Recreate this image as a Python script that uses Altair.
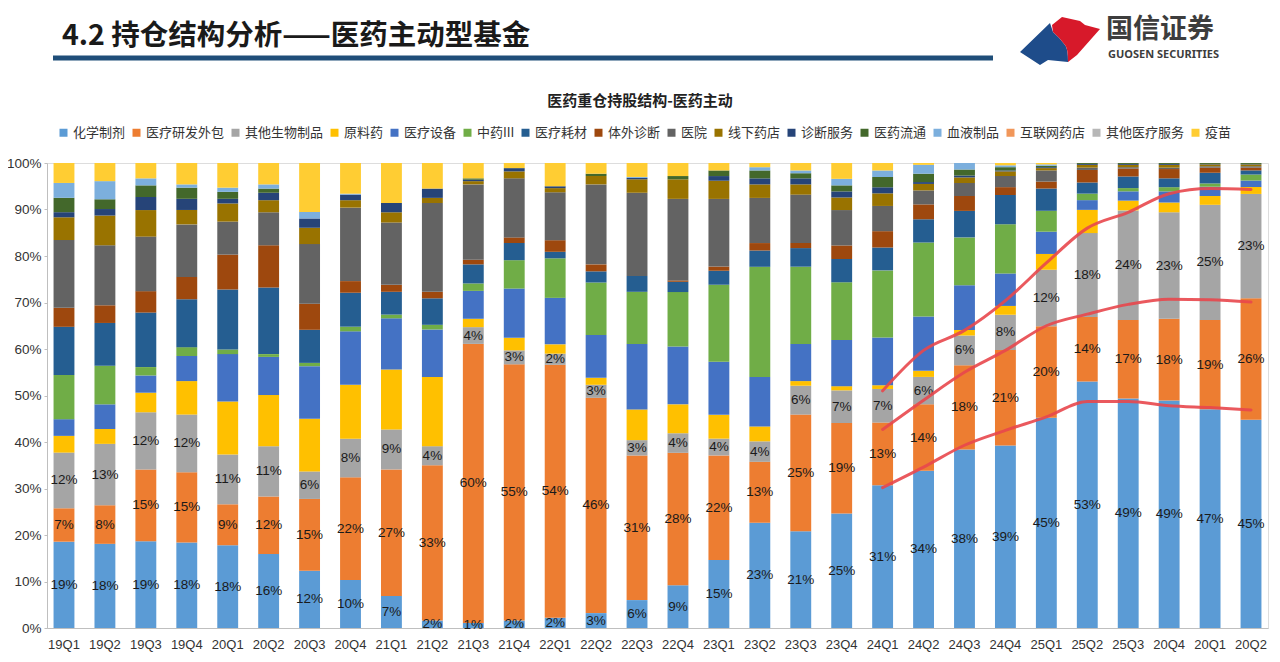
import json
import pandas as pd
import altair as alt

x_labels = ["19Q1", "19Q2", "19Q3", "19Q4", "20Q1", "20Q2", "20Q3", "20Q4",
            "21Q1", "21Q2", "21Q3", "21Q4", "22Q1", "22Q2", "22Q3", "22Q4",
            "23Q1", "23Q2", "23Q3", "23Q4", "24Q1", "24Q2", "24Q3", "24Q4",
            "25Q1", "25Q2", "25Q3", "20Q4", "20Q1", "20Q2"]

categories = ["化学制剂", "医疗研发外包", "其他生物制品", "原料药", "医疗设备", "中药III",
              "医疗耗材", "体外诊断", "医院", "线下药店", "诊断服务", "医药流通",
              "血液制品", "互联网药店", "其他医疗服务", "疫苗"]
colors = ["#5B9BD5", "#ED7D31", "#A5A5A5", "#FFC000", "#4472C4", "#70AD47",
          "#255E91", "#9E480E", "#636363", "#997300", "#264478", "#43682B",
          "#7CAFDD", "#F1975A", "#B7B7B7", "#FFCD33"]

chem = [18.6, 18.1, 18.6, 18.4, 17.8, 15.9, 12.3, 10.3, 6.9, 1.6, 1.1, 1.6, 2.2, 3.2, 6.0,
        9.2, 14.6, 22.6, 20.8, 24.6, 30.6, 33.8, 38.4, 39.3, 45.3, 53.1, 49.4, 48.9, 47.1, 45.1]
cro = [7.2, 8.3, 15.4, 15.1, 8.8, 12.4, 15.4, 22.1, 27.2, 33.4, 60.0, 55.1, 54.4, 46.3, 31.1,
       28.4, 22.4, 13.1, 25.1, 19.4, 13.4, 14.3, 18.1, 20.6, 19.7, 13.9, 16.9, 17.6, 19.2, 26.3]
bio = [12.0, 13.2, 12.3, 12.4, 10.7, 10.8, 5.9, 8.3, 8.6, 4.1, 3.6, 3.0, 2.4, 2.8, 3.3,
       4.2, 3.6, 4.4, 6.2, 7.0, 7.2, 5.9, 6.4, 7.6, 12.2, 18.1, 23.6, 22.9, 24.8, 22.6]
api = [3.6, 3.2, 4.2, 7.2, 11.4, 11.0, 11.3, 11.6, 12.9, 14.9, 1.8, 2.7, 2.0, 1.5, 6.6,
       6.2, 5.1, 3.2, 1.0, 0.9, 0.8, 1.3, 1.2, 1.9, 3.4, 5.0, 2.1, 2.1, 1.9, 1.5]
device = [3.6, 5.3, 3.7, 5.4, 10.2, 8.2, 11.3, 11.5, 11.0, 10.2, 6.0, 10.6, 10.0, 9.2, 14.1,
          12.4, 11.4, 10.6, 8.0, 9.9, 10.2, 11.7, 9.6, 7.0, 4.8, 2.1, 2.0, 2.4, 2.0, 1.4]
tcm = [9.5, 8.3, 1.8, 1.9, 1.0, 0.6, 0.7, 1.0, 0.8, 1.0, 1.6, 6.1, 8.5, 11.3, 11.2,
       11.7, 16.5, 23.7, 16.6, 12.4, 14.4, 15.9, 10.3, 10.6, 4.5, 1.4, 0.7, 0.9, 0.7, 1.3]
consum = [10.4, 9.2, 11.7, 10.3, 12.9, 14.3, 7.1, 7.3, 4.9, 5.7, 4.1, 3.7, 1.4, 2.4, 3.4,
          2.2, 3.0, 3.5, 4.0, 5.0, 4.9, 5.0, 5.7, 6.3, 4.8, 2.4, 2.5, 1.9, 2.3, 0.9]
ivd = [4.1, 3.8, 4.6, 4.8, 7.5, 9.1, 5.6, 2.5, 1.5, 1.4, 1.0, 1.2, 2.5, 1.5, 0.0,
       0.3, 0.9, 1.6, 1.1, 2.9, 3.5, 3.2, 3.2, 1.7, 1.5, 2.7, 1.7, 2.0, 1.1, 0.6]
hospital = [14.6, 12.9, 11.7, 11.3, 7.1, 7.1, 12.8, 15.8, 13.4, 19.1, 16.2, 12.7, 10.3, 17.2, 17.9,
            17.5, 14.5, 9.7, 10.4, 7.6, 5.4, 3.0, 2.8, 2.4, 2.4, 0.5, 0.3, 0.3, 0.3, 0.3]
pharmacy = [4.9, 6.4, 5.7, 3.1, 3.9, 2.6, 3.5, 1.6, 2.2, 1.1, 0.7, 1.5, 0.9, 1.8, 2.9,
            4.2, 3.9, 2.9, 2.2, 2.7, 2.7, 1.4, 1.2, 1.0, 0.5, 0.6, 0.5, 0.6, 0.4, 0.4]
diag_srv = [1.1, 1.4, 2.8, 2.4, 1.0, 1.6, 2.0, 1.2, 2.0, 2.0, 0.3, 0.7, 0.4, 0.0, 0.3,
            0.0, 1.0, 1.3, 1.3, 1.3, 1.3, 0.4, 0.4, 0.2, 0.2, 0.2, 0.2, 0.2, 0.1, 0.1]
distrib = [3.1, 2.1, 2.5, 2.4, 1.5, 0.9, 0.0, 0.0, 0.0, 0.0, 0.3, 0.0, 0.0, 0.5, 0.0,
           0.7, 1.2, 1.7, 1.1, 1.3, 2.2, 1.8, 1.3, 0.7, 0.3, 0.2, 0.2, 0.2, 0.2, 0.2]
blood = [3.2, 3.9, 1.5, 0.7, 0.9, 0.9, 1.4, 0.2, 0.0, 0.0, 0.0, 0.0, 0.0, 0.0, 0.2,
         0.0, 0.0, 0.7, 0.6, 1.4, 1.4, 1.9, 1.4, 0.4, 0.3, 0.0, 0.0, 0.0, 0.0, 0.0]
online = [0.0] * 30
other_srv = [0.0] * 30
vaccine = [4.3, 3.9, 3.3, 4.6, 5.3, 4.6, 10.5, 6.6, 8.6, 5.5, 3.3, 1.1, 5.0, 2.3, 3.0,
           2.8, 1.6, 0.9, 1.6, 3.4, 1.6, 0.4, 0.0, 0.5, 0.3, 0.0, 0.0, 0.0, 0.0, 0.0]

series = [chem, cro, bio, api, device, tcm, consum, ivd, hospital, pharmacy,
          diag_srv, distrib, blood, online, other_srv, vaccine]

# hand-drawn red annotation lines, from 24Q1 on
red_idx = [20, 21, 22, 23, 24, 25, 26, 27, 28, 29]
red_top = [51.0, 59.7, 64.0, 70.4, 78.5, 86.0, 89.4, 93.4, 94.5, 94.3]
red_mid = [42.7, 49.0, 55.0, 59.7, 65.0, 67.5, 69.6, 70.7, 70.6, 70.1]
red_bot = [30.2, 34.6, 39.3, 42.5, 45.4, 48.7, 48.7, 47.8, 47.4, 46.9]

rows = []
for o, (c, vals) in enumerate(zip(categories, series)):
    for i, v in enumerate(vals):
        rows.append({"idx": i, "cat": c, "order": o, "v": v})
df = pd.DataFrame(rows)

red_rows = []
for name, vals in [("top", red_top), ("mid", red_mid), ("bot", red_bot)]:
    for i, v in zip(red_idx, vals):
        red_rows.append({"idx": i, "line": name, "p": v})
red_df = pd.DataFrame(red_rows)

CJK = "Noto Sans CJK SC"
NUM = "Liberation Sans"

xscale = alt.Scale(paddingInner=0.49, paddingOuter=0.16)
yscale = alt.Scale(domain=[0, 1], nice=False, zero=True)

label_expr = json.dumps(x_labels) + "[datum.value]"

base = alt.Chart(df).transform_stack(
    stack="v", as_=["y0", "y1"], groupby=["idx"],
    sort=[alt.SortField("order", order="ascending")], offset="normalize"
).transform_calculate(
    mid="(datum.y0 + datum.y1) / 2",
    label="format(datum.v, '.0f') + '%'"
)

bars = base.mark_bar().encode(
    x=alt.X("idx:O", scale=xscale, title=None,
            axis=alt.Axis(labelExpr=label_expr, labelAngle=0, labelFont=NUM,
                          labelFontSize=13, labelColor="#333333", ticks=False,
                          domainColor="#BFBFBF", labelPadding=10)),
    y=alt.Y("y0:Q", scale=yscale, title=None,
            axis=alt.Axis(format=".0%", values=[i / 10 for i in range(11)],
                          labelFont=NUM, labelFontSize=13.5, labelColor="#333333",
                          grid=False, domainColor="#BFBFBF", tickColor="#BFBFBF",
                          tickSize=3, labelPadding=3)),
    y2="y1:Q",
    color=alt.Color("cat:N", scale=alt.Scale(domain=categories, range=colors),
                    legend=alt.Legend(orient="none", direction="horizontal",
                                      legendX=10, legendY=-37, title=None,
                                      symbolType="square", symbolSize=64,
                                      symbolStrokeWidth=0, labelFont=CJK,
                                      labelFontSize=13, labelColor="#333333",
                                      columnPadding=4, labelOffset=3)),
    order=alt.Order("order:Q"),
)

texts = base.transform_filter("datum.order < 3").mark_text(
    font=NUM, fontSize=13.5, color="#1a1a1a", baseline="middle"
).encode(
    x=alt.X("idx:O", scale=xscale, title=None),
    y=alt.Y("mid:Q", scale=yscale, title=None),
    text="label:N",
)

red_lines = alt.Chart(red_df).transform_calculate(
    frac="datum.p / 100"
).mark_line(color="#E8474C", strokeWidth=3, interpolate="monotone",
            opacity=0.9, strokeCap="round").encode(
    x=alt.X("idx:O", scale=xscale, title=None),
    y=alt.Y("frac:Q", scale=yscale, title=None),
    detail="line:N",
)

one = pd.DataFrame({"a": [0]})

header = alt.Chart(one).mark_text(
    text="4.2  持仓结构分析——医药主动型基金", font=CJK, fontSize=28.5,
    fontWeight="bold", color="#1a1a1a", align="left", baseline="middle"
).encode(x=alt.value(15), y=alt.value(-127))

underline = alt.Chart(one).mark_rule(color="#1F4E79", strokeWidth=5).encode(
    x=alt.value(6), x2=alt.value(946), y=alt.value(-105))

title = alt.Chart(one).mark_text(
    text="医药重仓持股结构-医药主动", font=CJK, fontSize=15, fontWeight="bold",
    color="#222222", align="center", baseline="middle"
).encode(x=alt.value(593), y=alt.value(-62))

red_path = ("M -0.2 -0.375 L 0.05 -0.575 L 0.5 -0.475 L 0.625 -0.375 L 1 -0.275 "
            "L 0.425 0.375 L 0.2 0.55 Q 0.2 0.2 0.125 0.125 Q 0 -0.05 -0.175 -0.2 Z")
blue_path = ("M -1 0.3 L -0.25 -0.425 L -0.175 -0.2 Q 0 -0.05 0.125 0.125 "
             "Q 0.2 0.2 0.2 0.55 L -0.3 0.5 L -0.5 0.625 Z")

logo_red = alt.Chart(one).mark_point(
    shape=red_path, filled=True, size=6400, color="#D7192A", opacity=1, strokeWidth=0
).encode(x=alt.value(1013), y=alt.value(-123))
logo_blue = alt.Chart(one).mark_point(
    shape=blue_path, filled=True, size=6400, color="#1E4C8A", opacity=1, strokeWidth=0
).encode(x=alt.value(1013), y=alt.value(-123))

logo_cn = alt.Chart(one).mark_text(
    text="国信证券", font=CJK, fontSize=27, fontWeight="bold", color="#3d3d3d",
    align="left", baseline="middle"
).encode(x=alt.value(1059), y=alt.value(-133))
logo_en = alt.Chart(one).mark_text(
    text="GUOSEN SECURITIES", font="Noto Sans", fontSize=11, fontWeight="bold",
    color="#3d3d3d", align="left", baseline="middle"
).encode(x=alt.value(1061), y=alt.value(-108))

chart = alt.layer(
    bars, texts, red_lines, header, underline, title,
    logo_blue, logo_red, logo_cn, logo_en
).properties(
    width=1221, height=465,
    autosize=alt.AutoSizeParams(type="none"),
    padding={"left": 39, "top": 155, "right": 4, "bottom": 25},
).configure_view(stroke=None).configure(background="white")

chart.save("out.html", embed_options={"renderer": "svg", "actions": False})
